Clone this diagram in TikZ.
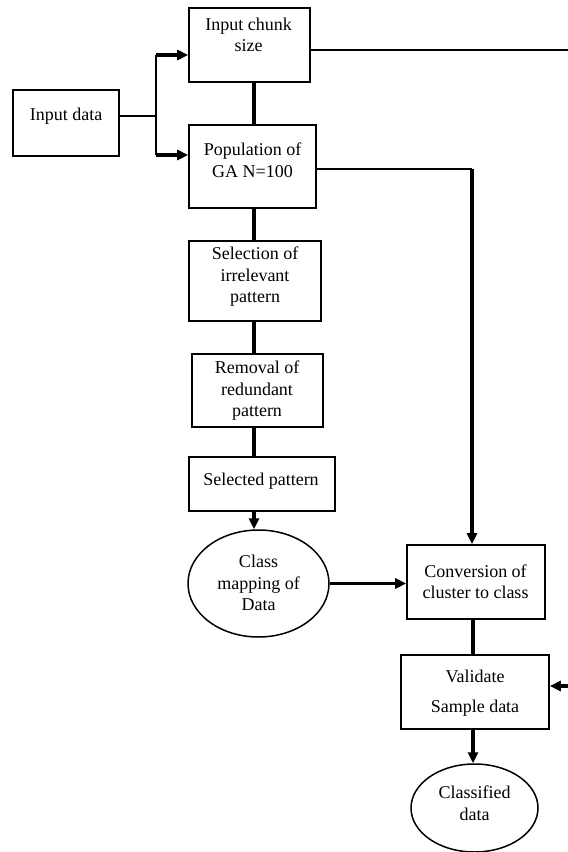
\documentclass[tikz,border=0pt]{standalone}
\usepackage{fontspec}
\setmainfont{Liberation Serif}
\usetikzlibrary{arrows.meta,shapes.geometric}
\tikzset{
  box/.style={draw, line width=1.6pt, rectangle, inner sep=0pt},
  oval/.style={draw, line width=1.5pt, ellipse, inner sep=0pt},
  txt/.style={align=center, inner sep=0pt, font=\fontsize{18}{21.5}\selectfont},
  thinline/.style={line width=1.5pt},
  thickline/.style={line width=3.3pt},
  flow/.style={line width=3.3pt, -{Triangle[length=11pt,width=10pt]}},
}
\begin{document}
\begin{tikzpicture}[x=1pt,y=-1pt]
\useasboundingbox (0,0) rectangle (568,852);

% boxes and ovals
\node[box, minimum width=106pt, minimum height=66pt] (indata) at (66,123) {};
\node[box, minimum width=121pt, minimum height=74pt] (chunk) at (249.5,45) {};
\node[box, minimum width=127pt, minimum height=83pt] (pop) at (252.5,166.5) {};
\node[box, minimum width=132pt, minimum height=80pt] (sel) at (255,281) {};
\node[box, minimum width=131pt, minimum height=73pt] (rem) at (257.5,390.5) {};
\node[box, minimum width=146pt, minimum height=54pt] (spat) at (262,484) {};
\node[oval, minimum width=141pt, minimum height=107pt] (cmap) at (258.5,583.5) {};
\node[box, minimum width=138pt, minimum height=74pt] (conv) at (476,582) {};
\node[box, minimum width=148pt, minimum height=74pt] (valid) at (475,692) {};
\node[oval, minimum width=127pt, minimum height=88pt] (cdata) at (474.5,808) {};

% texts
\node[txt] at (66,116) {Input data};
\node[txt] at (248.5,35) {Input chunk\\size};
\node[txt] at (252.5,160) {Population of\\GA N=100};
\node[txt] at (255,277) {Selection of\\irrelevant\\pattern};
\node[txt] at (257,391) {Removal of\\redundant\\pattern};
\node[txt] at (261,481) {Selected pattern};
\node[txt] at (258.5,583) {Class\\mapping of\\Data};
\node[txt] at (475.5,581.5) {Conversion of\\cluster to class};
\node[txt] at (475,693) {Validate\\[8pt]Sample data};
\node[txt] at (474.5,803) {Classified\\data};

% helper points
\coordinate (spine) at (254,0);
\coordinate (br) at (156,116);
\coordinate (brT) at (156,55);
\coordinate (brB) at (156,155);
\coordinate (edgeA) at (568,50);
\coordinate (edgeB) at (568,686);
\coordinate (k1) at (472,169);
\coordinate (k2) at (473,0);

% input branch
\draw[thinline] (indata.east |- br) -- (br);
\draw[line width=2pt] (brT) -- (brB);
\draw[flow] (brT) -- (chunk.west |- brT);
\draw[flow] (brB) -- (pop.west |- brB);

% main spine
\draw[thickline] (chunk.south -| spine) -- (pop.north -| spine);
\draw[thickline] (pop.south -| spine) -- (sel.north -| spine);
\draw[thickline] (sel.south -| spine) -- (rem.north -| spine);
\draw[thickline] (rem.south -| spine) -- (spat.north -| spine);
\draw[flow] (spat.south -| spine) -- (cmap.north -| spine);

% side paths
\draw[thinline] (chunk.east |- edgeA) -- (edgeA);
\draw[thinline] (pop.east |- k1) -- (k1);
\draw[flow] (k1) -- (conv.north -| k1);
\draw[flow] (cmap.east) -- (conv.west |- cmap.east);
\draw[thickline] (conv.south -| k2) -- (valid.north -| k2);
\draw[flow] (edgeB) -- (valid.east |- edgeB);
\draw[flow] (valid.south -| k2) -- (cdata.north -| k2);
\end{tikzpicture}
\end{document}
